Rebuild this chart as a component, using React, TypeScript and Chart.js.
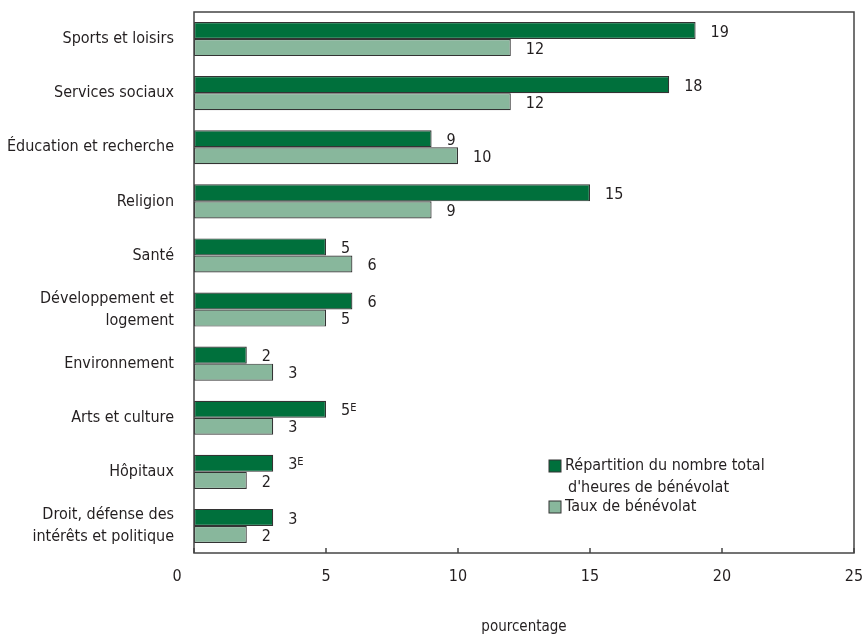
import React, { useEffect, useRef } from "react";
import { Chart, registerables } from "chart.js";

Chart.register(...registerables);

const categories: string[][] = [
  ["Sports et loisirs"],
  ["Services sociaux"],
  ["Éducation et recherche"],
  ["Religion"],
  ["Santé"],
  ["Développement et", "logement"],
  ["Environnement"],
  ["Arts et culture"],
  ["Hôpitaux"],
  ["Droit, défense des", "intérêts et politique"],
];

const heuresValues = [19, 18, 9, 15, 5, 6, 2, 5, 3, 3];
const tauxValues = [12, 12, 10, 9, 6, 5, 3, 3, 2, 2];
const heuresFlags = ["", "", "", "", "", "", "", "E", "E", ""];
const tauxFlags = ["", "", "", "", "", "", "", "", "", ""];

const heuresLabel = ["Répartition du nombre total", "d'heures de bénévolat"];
const tauxLabel = ["Taux de bénévolat"];

const xTicks = [0, 5, 10, 15, 20, 25];
const xTitle = "pourcentage";

const DARK = "#00703C";
const LIGHT = "#88B79C";
const TEXT = "#231f20";
const FONT = "'DejaVu Sans Condensed', 'DejaVu Sans', sans-serif";

export default function App() {
  const ref = useRef<HTMLCanvasElement | null>(null);

  useEffect(() => {
    if (!ref.current) return;
    const flags = [heuresFlags, tauxFlags];
    const legendLabels = [heuresLabel, tauxLabel];

    const custom = {
      id: "custom",
      afterDraw(chart: any) {
        const ctx = chart.ctx;
        const area = chart.chartArea;
        const xs = chart.scales.x;
        ctx.save();
        // box
        ctx.strokeStyle = "#444";
        ctx.lineWidth = 1.5;
        ctx.strokeRect(area.left, area.top, area.right - area.left, area.bottom - area.top);
        // tick marks
        xTicks.forEach((t) => {
          const px = xs.getPixelForValue(t);
          ctx.beginPath();
          ctx.moveTo(px, area.bottom);
          ctx.lineTo(px, area.bottom - 5);
          ctx.stroke();
        });
        // tick labels
        ctx.fillStyle = TEXT;
        ctx.font = `16px ${FONT}`;
        ctx.textAlign = "center";
        ctx.textBaseline = "middle";
        xTicks.forEach((t, i) => {
          let px = xs.getPixelForValue(t);
          if (i === 0) px -= 17;
          ctx.fillText(String(t), px, area.bottom + 24);
        });
        // axis title
        ctx.font = `15px ${FONT}`;
        ctx.fillText(xTitle, (area.left + area.right) / 2, area.bottom + 74);
        // value labels
        ctx.textAlign = "left";
        chart.data.datasets.forEach((ds: any, di: number) => {
          const meta = chart.getDatasetMeta(di);
          meta.data.forEach((bar: any, i: number) => {
            const txt = String(ds.data[i]);
            const x = bar.x + 15;
            const y = bar.y + 2;
            ctx.font = `16px ${FONT}`;
            ctx.fillText(txt, x, y);
            const f = flags[di][i];
            if (f) {
              const w = ctx.measureText(txt).width;
              ctx.font = `11px ${FONT}`;
              ctx.fillText(f, x + w, y - 3);
            }
          });
        });
        // legend
        const lx = 549;
        const ly = [466, 507];
        chart.data.datasets.forEach((ds: any, di: number) => {
          ctx.fillStyle = ds.backgroundColor;
          ctx.fillRect(lx, ly[di] - 6, 12, 12);
          ctx.strokeStyle = "#333";
          ctx.lineWidth = 1;
          ctx.strokeRect(lx, ly[di] - 6, 12, 12);
          ctx.fillStyle = TEXT;
          ctx.font = `16px ${FONT}`;
          legendLabels[di].forEach((line, li) => {
            ctx.fillText(line, lx + 16 + (li > 0 ? 3 : 0), ly[di] + li * 22);
          });
        });
        ctx.restore();
      },
    };

    const chart = new Chart(ref.current, {
      type: "bar",
      data: {
        labels: categories,
        datasets: [
          {
            label: heuresLabel.join(" "),
            data: heuresValues,
            backgroundColor: DARK,
            borderColor: "#333",
            borderWidth: 1.2,
            borderSkipped: false,
          },
          {
            label: tauxLabel.join(" "),
            data: tauxValues,
            backgroundColor: LIGHT,
            borderColor: "#333",
            borderWidth: 1.2,
            borderSkipped: false,
          },
        ],
      },
      options: {
        indexAxis: "y",
        responsive: false,
        animation: false,
        layout: { padding: { left: 0, right: 9, top: 12, bottom: 0 } },
        datasets: { bar: { barPercentage: 1, categoryPercentage: 0.63 } },
        plugins: { legend: { display: false }, tooltip: { enabled: false } },
        scales: {
          x: {
            min: 0,
            max: 25,
            grid: { display: false },
            border: { display: false },
            ticks: { display: false },
            afterFit: (s: any) => {
              s.height = 84;
              s.paddingLeft = 0;
              s.paddingRight = 0;
            },
          },
          y: {
            grid: { display: false },
            border: { display: false },
            ticks: {
              color: TEXT,
              font: { family: FONT, size: 16, lineHeight: 1.4 },
              padding: 12,
            },
            afterFit: (s: any) => {
              s.width = 194;
              s.paddingTop = 0;
              s.paddingBottom = 0;
            },
          },
        },
      },
      plugins: [custom],
    } as any);
    return () => chart.destroy();
  }, []);

  return (
    <div style={{ position: "fixed", left: 0, top: 0, width: 863, height: 637, background: "#fff" }}>
      <canvas ref={ref} width={863} height={637} />
    </div>
  );
}
